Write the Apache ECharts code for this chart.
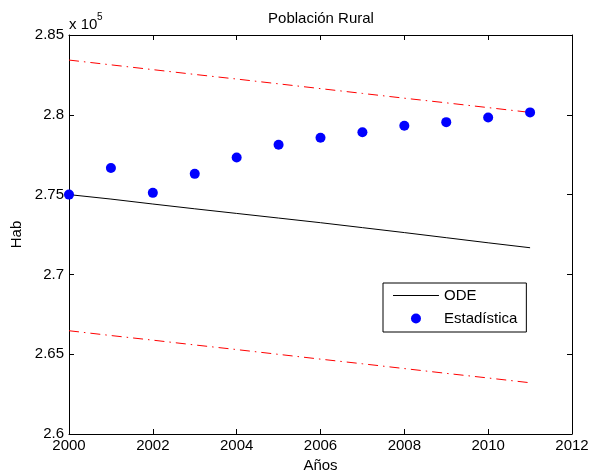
<!DOCTYPE html>
<html>
<head>
<meta charset="utf-8">
<title>Población Rural</title>
<script src="https://cdn.jsdelivr.net/npm/echarts@6/dist/echarts.min.js"></script>
<style>
  html, body { margin: 0; padding: 0; background: #fff; }
  #chart { width: 592px; height: 473px; }
</style>
</head>
<body>
<div id="chart"></div>
<script>
// Years of the series
const years = [2000, 2001, 2002, 2003, 2004, 2005, 2006, 2007, 2008, 2009, 2010, 2011];

// Model solution (ODE), inhabitants
const odeValues = [275000, 274720, 274410, 274110, 273820, 273530, 273240, 272930, 272620, 272300, 271980, 271670];

// Statistical census figures, inhabitants
const statValues = [275000, 276670, 275110, 276300, 277320, 278120, 278560, 278910, 279310, 279540, 279830, 280150];

// Upper and lower bounds (dash-dot red), inhabitants
const upperValues = [283430, 283130, 282830, 282530, 282240, 281940, 281640, 281340, 281040, 280750, 280450, 280150];
const lowerValues = [266470, 266170, 265880, 265580, 265290, 264990, 264690, 264400, 264100, 263800, 263510, 263210];

// Axis ranges and tick spacing
const xTicks = { min: 2000, max: 2012, interval: 2 };
const yTicks = { min: 260000, max: 285000, interval: 5000 };
const yScale = 1e5;

const FONT = 'Liberation Sans, Arial, Helvetica, sans-serif';

const pairs = vals => years.map((y, i) => [y, vals[i]]);

// Plain horizontal stroke used as the legend key of the ODE curve
const lineIcon = 'path://M0,4.5H46V5.5H0Z M0,0H0.01V0.01H0Z M0,10H0.01V10.01H0Z';

const chart = echarts.init(document.getElementById('chart'), null, { renderer: 'canvas' });

const axisLineStyle = { lineStyle: { color: '#000', width: 1 } };
const innerTick = { show: true, inside: true, length: 5, lineStyle: { color: '#000', width: 1 } };

chart.setOption({
  animation: false,
  backgroundColor: '#fff',
  grid: { left: 69, right: 20, top: 35, bottom: 39, containLabel: false, outerBoundsMode: 'none' },
  xAxis: [
    {
      type: 'value', position: 'bottom',
      min: xTicks.min, max: xTicks.max, interval: xTicks.interval,
      axisLine: axisLineStyle, axisTick: innerTick,
      splitLine: { show: false },
      axisLabel: { color: '#000', fontFamily: FONT, fontSize: 15, margin: 4,
                   formatter: v => String(v) },
      name: 'Años', nameLocation: 'middle', nameGap: 22,
      nameTextStyle: { color: '#000', fontFamily: FONT, fontSize: 15 }
    },
    {
      type: 'value', position: 'top',
      min: xTicks.min, max: xTicks.max, interval: xTicks.interval,
      axisLine: axisLineStyle, axisTick: innerTick,
      splitLine: { show: false }, axisLabel: { show: false }
    }
  ],
  yAxis: [
    {
      type: 'value', position: 'left',
      min: yTicks.min, max: yTicks.max, interval: yTicks.interval,
      axisLine: { show: true, lineStyle: { color: '#000', width: 1 } }, axisTick: innerTick,
      splitLine: { show: false },
      axisLabel: { color: '#000', fontFamily: FONT, fontSize: 15, margin: 5,
                   padding: [7, 0, 0, 0],
                   formatter: v => String(parseFloat((v / yScale).toFixed(3))) },
      name: 'Hab', nameLocation: 'middle', nameGap: 39, nameRotate: 90,
      nameTextStyle: { color: '#000', fontFamily: FONT, fontSize: 15 }
    },
    {
      type: 'value', position: 'right',
      min: yTicks.min, max: yTicks.max, interval: yTicks.interval,
      axisLine: { show: true, lineStyle: { color: '#000', width: 1 } }, axisTick: innerTick,
      splitLine: { show: false }, axisLabel: { show: false }
    }
  ],
  legend: {
    left: 383, top: 283,
    orient: 'vertical',
    data: [
      { name: 'ODE', icon: lineIcon, itemStyle: { color: '#000' } },
      { name: 'Estadística', icon: 'circle' }
    ],
    backgroundColor: '#fff',
    borderColor: '#000', borderWidth: 1, borderRadius: 0,
    padding: [5, 9, 6, 10],
    itemWidth: 46, itemHeight: 10, itemGap: 8,
    textStyle: { color: '#000', fontFamily: FONT, fontSize: 15 },
    selectedMode: false
  },
  graphic: [
    { type: 'text', x: 321, y: 19, silent: true,
      style: { text: 'Población Rural', fill: '#000', fontFamily: FONT, fontSize: 15,
               align: 'center', verticalAlign: 'middle' } },
    { type: 'text', x: 69, y: 32, silent: true,
      style: { text: 'x 10', fill: '#000', fontFamily: FONT, fontSize: 15,
               align: 'left', verticalAlign: 'bottom' } },
    { type: 'text', x: 97, y: 22, silent: true,
      style: { text: '5', fill: '#000', fontFamily: FONT, fontSize: 10,
               align: 'left', verticalAlign: 'bottom' } }
  ],
  series: [
    {
      name: 'upper', type: 'line', data: pairs(upperValues),
      symbol: 'none', silent: true, z: 2,
      lineStyle: { color: '#ff0000', width: 1, type: [10, 5, 1.5, 5] }
    },
    {
      name: 'lower', type: 'line', data: pairs(lowerValues),
      symbol: 'none', silent: true, z: 2,
      lineStyle: { color: '#ff0000', width: 1, type: [10, 5, 1.5, 5] }
    },
    {
      name: 'ODE', type: 'line', data: pairs(odeValues),
      symbol: 'none', z: 3,
      itemStyle: { color: '#000' },
      lineStyle: { color: '#000', width: 1 }
    },
    {
      name: 'Estadística', type: 'scatter', data: pairs(statValues),
      symbol: 'circle', symbolSize: 10, z: 4,
      itemStyle: { color: '#0000ff', opacity: 1 }
    }
  ]
});
</script>
</body>
</html>
